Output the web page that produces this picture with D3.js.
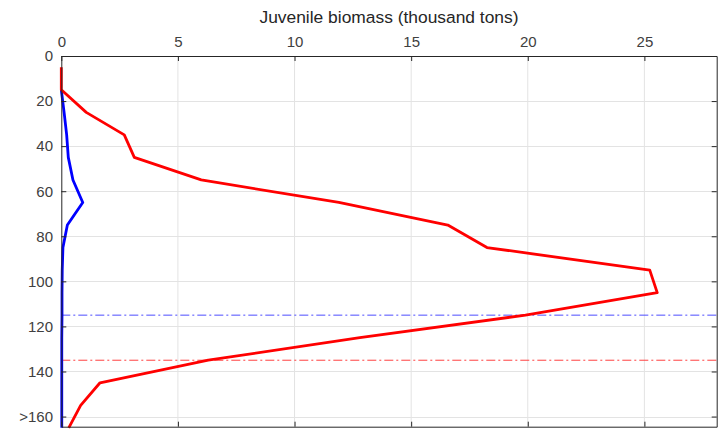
<html>
<head>
    <script src="https://d3js.org/d3.v7.min.js"></script>
    <style>
        body { margin: 0; background: #fff; }
        .grid line { stroke: #e3e3e3; stroke-width: 1px; }
        .axis text { font-family: "Liberation Sans", Arial, sans-serif; font-size: 15px; fill: #404040; }
        .axis path, .axis line { stroke: #262626; }
    </style>
</head>
<body>
<svg id="chart" width="719" height="432"></svg>
<script>
    // depth bins (y) and biomass values (x, thousand tons)
    const depthRed = [5, 15, 25, 35, 45, 55, 65, 75, 85, 95, 105, 115, 125, 135, 145, 155, 165];
    const redValues = [0, 0, 1.07, 2.7, 3.13, 6.0, 11.9, 16.57, 18.25, 25.23, 25.55, 19.9, 12.8, 6.3, 1.66, 0.83, 0.32];
    const depthBlue = [15, 25, 35, 45, 55, 65, 75, 85, 95, 105, 115, 125, 135, 145, 155, 165];
    const blueValues = [0, 0.12, 0.23, 0.3, 0.5, 0.92, 0.26, 0.07, 0.04, 0.03, 0.03, 0.02, 0.02, 0.02, 0.02, 0.02];
    const refLines = [{ depth: 115, color: "#4d4dff" }, { depth: 135, color: "#ff4040" }];
    const xTicks = [0, 5, 10, 15, 20, 25];
    const yTicks = [0, 20, 40, 60, 80, 100, 120, 140, 160];
    const yTickLabels = ["0", "20", "40", "60", "80", "100", "120", "140", ">160"];

    const svg = d3.select("#chart");
    const margin = { top: 56, right: 2.3, bottom: 5.3, left: 61.3 };
    const width = 719 - margin.left - margin.right;
    const height = 432 - margin.top - margin.bottom;
    const g = svg.append("g").attr("transform", `translate(${margin.left},${margin.top})`);

    const x = d3.scaleLinear().domain([0, 28.1]).range([0, width]);
    const y = d3.scaleLinear().domain([0, 164.5]).range([0, height]);
    // snap 1px horizontal grid lines to the pixel grid so they stay crisp
    const crispY = v => Math.round(y(v) + margin.top) + 0.5 - margin.top;

    // grid
    const grid = g.append("g").attr("class", "grid");
    grid.selectAll("line.v").data(xTicks.slice(1)).join("line")
        .attr("x1", d => x(d)).attr("x2", d => x(d)).attr("y1", 0).attr("y2", height);
    grid.selectAll("line.h").data(yTicks.slice(1)).join("line")
        .attr("y1", d => crispY(d)).attr("y2", d => crispY(d)).attr("x1", 0).attr("x2", width);

    // reference dash-dot lines
    g.selectAll("line.ref").data(refLines).join("line")
        .attr("class", "ref")
        .attr("x1", 0).attr("x2", width)
        .attr("y1", d => y(d.depth)).attr("y2", d => y(d.depth))
        .attr("stroke", d => d.color)
        .attr("stroke-width", 1)
        .attr("stroke-dasharray", "9,3,2,3");

    // lines
    const line = d3.line().x(d => x(d[1])).y(d => y(d[0]));
    g.append("path").datum(d3.zip(depthBlue, blueValues))
        .attr("fill", "none").attr("stroke", "#0000ff").attr("stroke-width", 2.8)
        .attr("stroke-linejoin", "round")
        .attr("d", line);
    g.append("path").datum(d3.zip(depthRed, redValues))
        .attr("fill", "none").attr("stroke", "#ff0000").attr("stroke-width", 2.8)
        .attr("stroke-linejoin", "round")
        .attr("d", line);

    // axes (ticks pointing inward)
    const topAxis = g.append("g").attr("class", "axis")
        .call(d3.axisTop(x).tickValues(xTicks).tickSizeInner(-5).tickSizeOuter(0).tickPadding(9.3));
    const bottomAxis = g.append("g").attr("class", "axis").attr("transform", `translate(0,${height})`)
        .call(d3.axisBottom(x).tickValues(xTicks).tickSizeInner(-5).tickSizeOuter(0).tickFormat(""));
    const leftAxis = g.append("g").attr("class", "axis")
        .call(d3.axisLeft(y).tickValues(yTicks).tickSizeInner(-5).tickSizeOuter(0).tickPadding(8.3)
            .tickFormat((d, i) => yTickLabels[i]));
    const rightAxis = g.append("g").attr("class", "axis").attr("transform", `translate(${width},0)`)
        .call(d3.axisRight(y).tickValues(yTicks).tickSizeInner(-5).tickSizeOuter(0).tickFormat(""));
    bottomAxis.select("path").attr("stroke", "#8a8a8a");
    rightAxis.select("path").attr("stroke", "#555");

    svg.append("text")
        .attr("x", margin.left + width / 2)
        .attr("y", 23)
        .attr("text-anchor", "middle")
        .attr("font-family", "Liberation Sans, Arial, sans-serif")
        .attr("font-size", 17.4)
        .attr("fill", "#262626")
        .text("Juvenile biomass (thousand tons)");
</script>
</body>
</html>
